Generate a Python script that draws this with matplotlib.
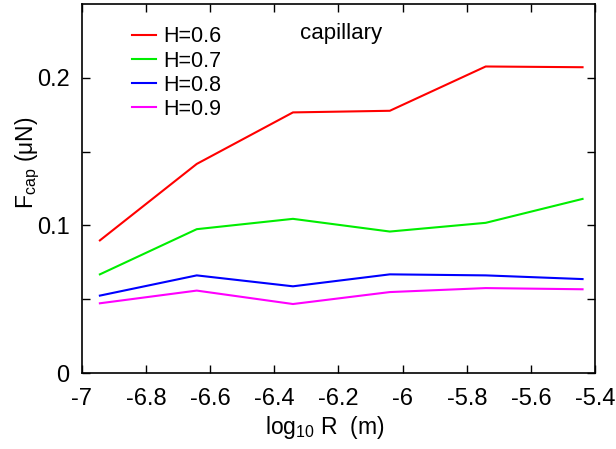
import matplotlib
matplotlib.use('Agg')
import matplotlib.pyplot as plt

plt.rcParams['font.family'] = 'Liberation Sans'
plt.rcParams['mathtext.fontset'] = 'custom'
plt.rcParams['mathtext.rm'] = 'Liberation Sans'
plt.rcParams['mathtext.it'] = 'Liberation Sans:italic'
plt.rcParams['axes.unicode_minus'] = False

log_r = [-6.944, -6.642, -6.342, -6.040, -5.741, -5.439]
f_h06 = [0.0899, 0.1417, 0.1766, 0.1777, 0.2077, 0.2072]
f_h07 = [0.0669, 0.0975, 0.1045, 0.0959, 0.1018, 0.1180]
f_h08 = [0.0525, 0.0662, 0.0588, 0.0669, 0.0662, 0.0637]
f_h09 = [0.0473, 0.0559, 0.0468, 0.0549, 0.0576, 0.0568]

xticks = [-7, -6.8, -6.6, -6.4, -6.2, -6, -5.8, -5.6, -5.4]
xticklabels = ['-7', '-6.8', '-6.6', '-6.4', '-6.2', '-6', '-5.8', '-5.6', '-5.4']
yticks = [0, 0.05, 0.1, 0.15, 0.2]
yticklabels = ['0', '', '0.1', '', '0.2']

fig = plt.figure(figsize=(6.16, 4.49), dpi=100)
ax = fig.add_axes([0.133, 0.169, 0.833, 0.822])

ax.plot(log_r, f_h06, color='#ff0000', lw=1.5, label='H=0.6')
ax.plot(log_r, f_h07, color='#00ee00', lw=1.5, label='H=0.7')
ax.plot(log_r, f_h08, color='#0000ff', lw=1.5, label='H=0.8')
ax.plot(log_r, f_h09, color='#ff00ff', lw=1.5, label='H=0.9')

ax.set_xlim(-7, -5.4)
ax.set_ylim(0, 0.25)
ax.set_xticks(xticks)
ax.set_xticklabels(xticklabels)
ax.set_yticks(yticks)
ax.set_yticklabels(yticklabels)
ax.tick_params(direction='in', length=6, width=1, top=True, right=True,
               labelsize=17)
ax.tick_params(axis='x', pad=11)
ax.tick_params(axis='y', pad=9)
for sp in ax.spines.values():
    sp.set_linewidth(1.2)

ax.set_xlabel('log$_{\\mathrm{10}}$ R  (m)', fontsize=16.5)
ax.xaxis.label.set_va('baseline')
ax.xaxis.set_label_coords(0.474, -0.165)
ax.set_ylabel('F$_{\\mathrm{cap}}$ (μN)', fontsize=16.5)
ax.yaxis.label.set_va('center')
ax.yaxis.set_label_coords(-0.106, 0.57)
ax.text(0.425, 0.921, 'capillary', transform=ax.transAxes, fontsize=16,
        va='center', ha='left')

ax.legend(loc='upper left', bbox_to_anchor=(0.08, 0.963), frameon=False,
          fontsize=15.5, handlelength=1.15, handletextpad=0.3, labelspacing=0.15,
          borderaxespad=0)

fig.savefig('out.png', dpi=100)
